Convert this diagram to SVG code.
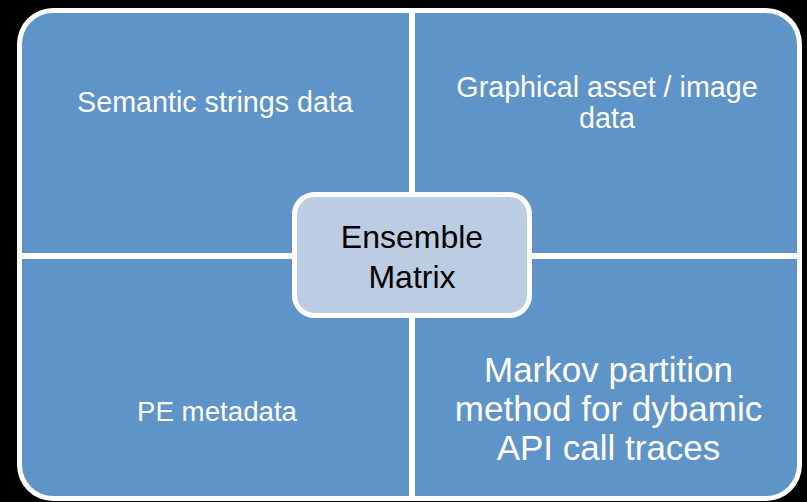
<svg xmlns="http://www.w3.org/2000/svg" width="807" height="502" viewBox="0 0 807 502">
  <style>
    .quad { fill: #5F94C8; }
    .qtxt { fill: #FFFFFF; font-family: "Liberation Sans", Arial, sans-serif; text-anchor: middle; }
    .ctxt { fill: #000000; font-family: "Liberation Sans", Arial, sans-serif; text-anchor: middle; font-size: 32px; }
  </style>
  <rect x="0" y="0" width="807" height="502" fill="#000000"/>
  <rect id="frame" x="17" y="8" width="785" height="493" rx="36" ry="36" fill="#FFFFFF"/>
  <g id="q-semantic">
    <path class="quad" d="M22 253 V44 A31 31 0 0 1 53 13 H409 V253 Z"/>
    <text class="qtxt" x="215" y="112" font-size="28.7">Semantic strings data</text>
  </g>
  <g id="q-graphical">
    <path class="quad" d="M415 13 H766 A31 31 0 0 1 797 44 V253 H415 Z"/>
    <text class="qtxt" x="607" y="97" font-size="28.7">Graphical asset / image</text>
    <text class="qtxt" x="607" y="128" font-size="28.7">data</text>
  </g>
  <g id="q-pe">
    <path class="quad" d="M22 259 H409 V496 H53 A31 31 0 0 1 22 465 Z"/>
    <text class="qtxt" x="217" y="421" font-size="27.7">PE metadata</text>
  </g>
  <g id="q-markov">
    <path class="quad" d="M415 259 H797 V465 A31 31 0 0 1 766 496 H415 Z"/>
    <text class="qtxt" x="608.5" y="382" font-size="35">Markov partition</text>
    <text class="qtxt" x="608.5" y="421" font-size="35">method for dybamic</text>
    <text class="qtxt" x="608.5" y="460" font-size="35">API call traces</text>
  </g>
  <g id="connectors"/>
  <g id="center">
    <rect x="294.5" y="194.5" width="235" height="121" rx="20" ry="20" fill="#BCCCE3" stroke="#FFFFFF" stroke-width="5"/>
    <text class="ctxt" x="412" y="248">Ensemble</text>
    <text class="ctxt" x="412" y="288">Matrix</text>
  </g>
</svg>
